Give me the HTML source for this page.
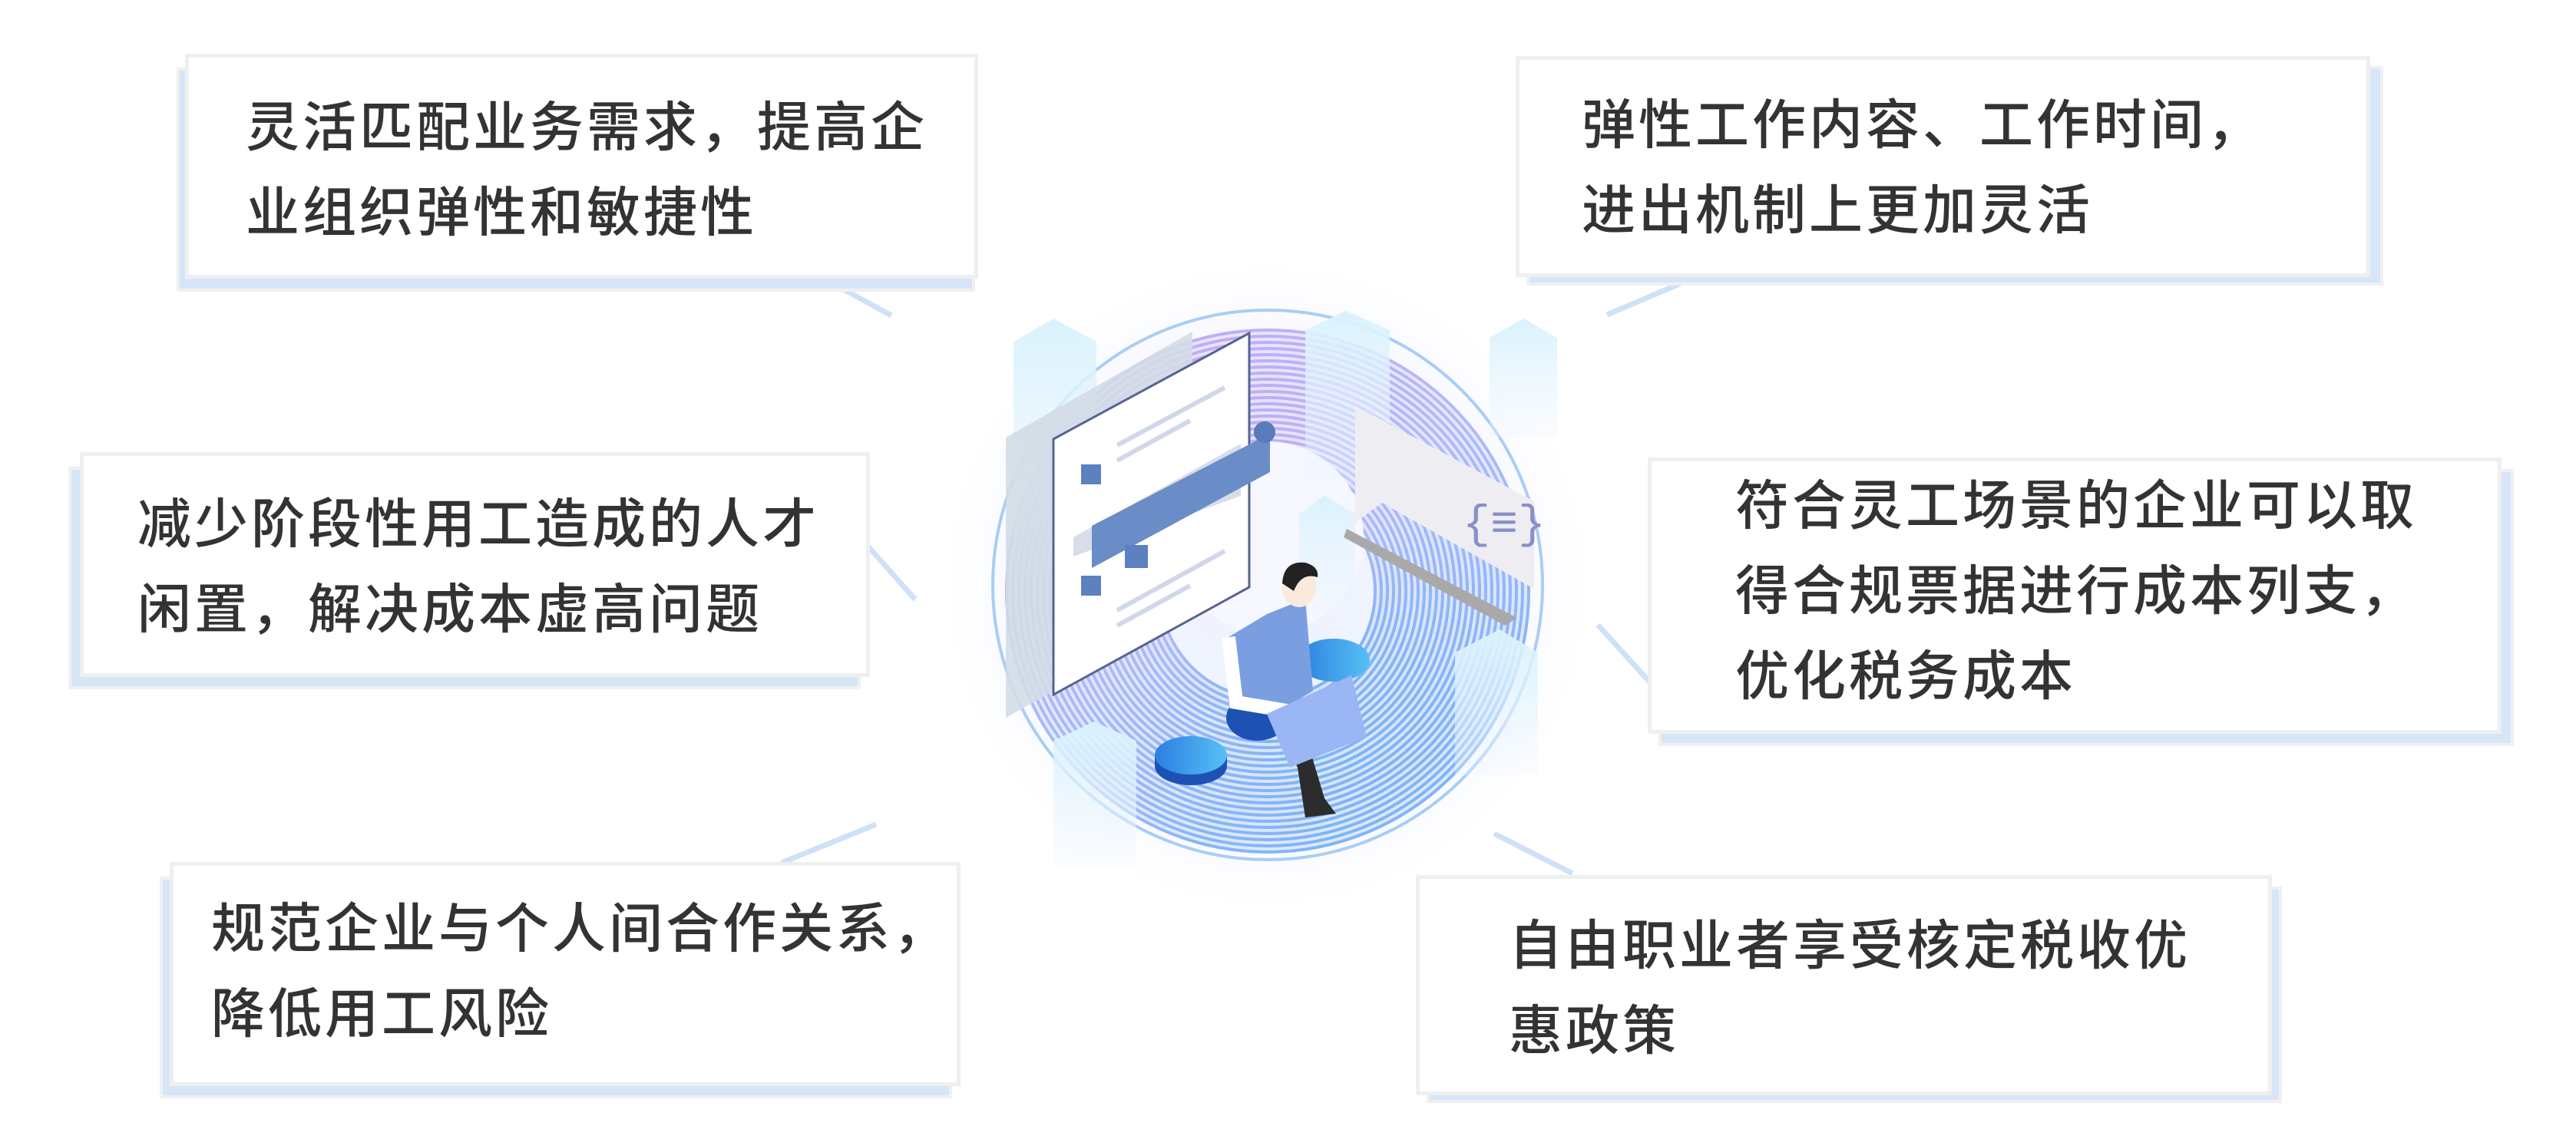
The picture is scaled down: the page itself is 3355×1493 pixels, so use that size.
<!DOCTYPE html>
<html><head><meta charset="utf-8"><style>
html,body{margin:0;padding:0;background:#fff;}
body{width:3355px;height:1493px;position:relative;overflow:hidden;font-family:"Liberation Sans","Noto Sans CJK SC",sans-serif;}
.sh{position:absolute;background:#d6e6f8;border:4px solid #f0f0f0;box-sizing:border-box;}
.bx{position:absolute;background:#fff;border:5px solid #efefef;box-sizing:border-box;}
.t{position:absolute;font-size:70px;color:#333;letter-spacing:4px;line-height:111px;white-space:nowrap;font-weight:500;}
svg{position:absolute;left:0;top:0;}
</style></head><body>
<svg width="3355" height="1493" viewBox="0 0 3355 1493">
<defs>
<radialGradient id="glow" cx="0.5" cy="0.5" r="0.5">
<stop offset="0" stop-color="#eef2ff"/><stop offset="0.7" stop-color="#f3f6ff"/><stop offset="1" stop-color="#fff" stop-opacity="0"/></radialGradient>
<linearGradient id="ring" x1="0" y1="0" x2="0.6" y2="1">
<stop offset="0" stop-color="#c6a6f5"/><stop offset="0.5" stop-color="#b3b9fb"/><stop offset="1" stop-color="#7fb4f7"/></linearGradient>
<linearGradient id="pil" x1="0" y1="0" x2="0" y2="1">
<stop offset="0" stop-color="#d9f2fd"/><stop offset="1" stop-color="#eef6ff" stop-opacity="0.3"/></linearGradient>
<linearGradient id="disk" x1="0" y1="0" x2="1" y2="0">
<stop offset="0" stop-color="#2d7fe0"/><stop offset="1" stop-color="#56c0f5"/></linearGradient>
</defs>
<g stroke="#cfe1f8" stroke-width="7" fill="none">
<line x1="1071" y1="362" x2="1161" y2="411"/>
<line x1="1129" y1="710" x2="1192" y2="781"/>
<line x1="1018" y1="1124" x2="1141" y2="1074"/>
<line x1="2093" y1="410" x2="2206" y2="362"/>
<line x1="2081" y1="814" x2="2150" y2="890"/>
<line x1="1946" y1="1086" x2="2048" y2="1138"/>
</g>
<circle cx="1651" cy="762" r="440" fill="url(#glow)"/>
<circle cx="1651" cy="762" r="358" fill="none" stroke="#a9cdf7" stroke-width="4"/>
<circle cx="1651" cy="770" r="240" fill="none" stroke="url(#ring)" stroke-width="200" opacity="0.25"/>
<g fill="none" stroke="url(#ring)" stroke-width="4">
<circle cx="1651" cy="770" r="140"/><circle cx="1651" cy="770" r="148"/><circle cx="1651" cy="770" r="156"/><circle cx="1651" cy="770" r="164"/><circle cx="1651" cy="770" r="172"/><circle cx="1651" cy="770" r="180"/><circle cx="1651" cy="770" r="188"/><circle cx="1651" cy="770" r="196"/><circle cx="1651" cy="770" r="204"/><circle cx="1651" cy="770" r="212"/><circle cx="1651" cy="770" r="220"/><circle cx="1651" cy="770" r="228"/><circle cx="1651" cy="770" r="236"/><circle cx="1651" cy="770" r="244"/><circle cx="1651" cy="770" r="252"/><circle cx="1651" cy="770" r="260"/><circle cx="1651" cy="770" r="268"/><circle cx="1651" cy="770" r="276"/><circle cx="1651" cy="770" r="284"/><circle cx="1651" cy="770" r="292"/><circle cx="1651" cy="770" r="300"/><circle cx="1651" cy="770" r="308"/><circle cx="1651" cy="770" r="316"/><circle cx="1651" cy="770" r="324"/><circle cx="1651" cy="770" r="332"/><circle cx="1651" cy="770" r="340"/>
</g>
<circle cx="1651" cy="700" r="125" fill="#f6f7ff"/>
<polygon points="1320,445 1372,415 1428,445 1428,750 1320,750" fill="url(#pil)"/>
<polygon points="1700,430 1753,405 1810,430 1810,630 1700,630" fill="url(#pil)"/>
<polygon points="1940,440 1984,415 2028,440 2028,570 1940,570" fill="url(#pil)"/>
<polygon points="1692,670 1725,645 1765,670 1765,800 1692,800" fill="url(#pil)"/>
<polygon points="1895,850 1953,820 2003,850 2003,1010 1895,1010" fill="url(#pil)"/>
<polygon points="1372,965 1425,940 1480,965 1480,1130 1372,1130" fill="url(#pil)"/>
<polygon points="1310,570 1553,432 1553,800 1310,935" fill="#d3dce6" opacity="0.9"/>
<polygon points="1372,572 1627,434 1627,765 1372,905" fill="#fff" stroke="#56658f" stroke-width="3"/>
<polygon points="1398,700 1616,578 1616,646 1398,725" fill="#d8dde8"/>
<polygon points="1422,685 1654,565 1654,615 1422,740" fill="#6a8cc7"/>
<circle cx="1647" cy="563" r="14" fill="#5a7ab8"/>
<rect x="1408" y="605" width="26" height="26" fill="#5d80c0"/>
<rect x="1408" y="750" width="26" height="26" fill="#5d80c0"/>
<rect x="1465" y="710" width="30" height="30" fill="#5d80c0"/>
<g stroke="#d0d8e8" stroke-width="6">
<line x1="1455" y1="580" x2="1595" y2="505"/><line x1="1455" y1="600" x2="1550" y2="548"/>
<line x1="1455" y1="795" x2="1595" y2="718"/><line x1="1455" y1="815" x2="1550" y2="763"/>
</g>
<polygon points="1765,529 1998,653 1998,767 1800,655 1754,689 1765,664" fill="#eeeef2"/>
<polygon points="1754,689 1976,805 1960,815 1750,700" fill="#a9a9a9"/>
<text x="1905" y="700" font-size="60" fill="#8a8fc9" font-family="Liberation Mono, monospace">{≡}</text>
<rect x="1504" y="984" width="94" height="14" fill="#1d52b4"/>
<ellipse cx="1551" cy="998" rx="47" ry="25" fill="#1d52b4"/>
<ellipse cx="1551" cy="984" rx="47" ry="25" fill="url(#disk)"/>
<ellipse cx="1737" cy="860" rx="47" ry="28" fill="url(#disk)"/>
<ellipse cx="1637" cy="935" rx="40" ry="30" fill="#1d52b4"/>
<polygon points="1660,945 1695,940 1725,1040 1740,1060 1700,1065 1690,1000" fill="#2c2c2c"/>
<polygon points="1650,800 1700,780 1710,900 1660,930 1600,915 1600,830" fill="#7b9ee0"/>
<path d="M1600,830 L1610,915 L1700,930" stroke="#fff" stroke-width="18" fill="none"/>
<polygon points="1650,930 1760,880 1780,960 1680,1000" fill="#9bb6f5"/>
<ellipse cx="1692" cy="765" rx="22" ry="26" fill="#fbe9dc"/>
<path d="M1670,760 Q1672,730 1700,733 Q1718,738 1716,752 Q1695,745 1685,770 Z" fill="#222"/>
</svg>

<div class="sh" style="left:230px;top:88px;width:1040px;height:292px"></div>
<div class="bx" style="left:241px;top:70px;width:1033px;height:293px"></div>
<div class="t" style="left:320px;top:111px">灵活匹配业务需求，提高企<br>业组织弹性和敏捷性</div>

<div class="sh" style="left:89px;top:608px;width:1032px;height:290px"></div>
<div class="bx" style="left:104px;top:589px;width:1029px;height:293px"></div>
<div class="t" style="left:179px;top:628px">减少阶段性用工造成的人才<br>闲置，解决成本虚高问题</div>

<div class="sh" style="left:208px;top:1142px;width:1032px;height:289px"></div>
<div class="bx" style="left:221px;top:1123px;width:1030px;height:292px"></div>
<div class="t" style="left:275px;top:1155px">规范企业与个人间合作关系，<br>降低用工风险</div>

<div class="sh" style="left:1988px;top:86px;width:1116px;height:286px"></div>
<div class="bx" style="left:1974px;top:73px;width:1113px;height:288px"></div>
<div class="t" style="left:2060px;top:108px">弹性工作内容、工作时间，<br>进出机制上更加灵活</div>

<div class="sh" style="left:2160px;top:611px;width:1114px;height:361px"></div>
<div class="bx" style="left:2146px;top:596px;width:1112px;height:360px"></div>
<div class="t" style="left:2260px;top:604px">符合灵工场景的企业可以取<br>得合规票据进行成本列支，<br>优化税务成本</div>

<div class="sh" style="left:1858px;top:1155px;width:1114px;height:282px"></div>
<div class="bx" style="left:1844px;top:1140px;width:1115px;height:287px"></div>
<div class="t" style="left:1965px;top:1177px">自由职业者享受核定税收优<br>惠政策</div>
</body></html>
